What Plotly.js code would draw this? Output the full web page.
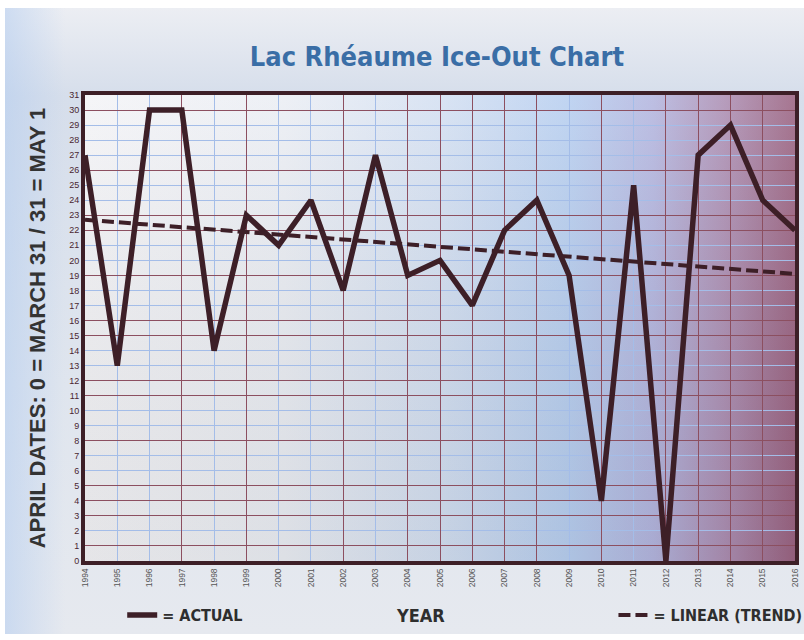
<!DOCTYPE html>
<html>
<head>
<meta charset="utf-8">
<script src="https://cdn.plot.ly/plotly-3.0.1.min.js"></script>
<style>
  html, body { margin: 0; padding: 0; background: #ffffff; }
  #wrap { position: relative; width: 804px; height: 640px; overflow: hidden; }
  #bg { position: absolute; left: 5px; top: 8px; right: 0px; bottom: 6px;
        background:
          linear-gradient(to right, rgba(180,205,240,0.55) 0px, rgba(180,205,240,0) 60px),
          linear-gradient(to bottom, #eceef3 0%, #d6deeb 14%, #dfe5ee 60%, #e6e9ef 100%); }
  #chart { position: absolute; left: 0; top: 0; width: 804px; height: 640px; }
</style>
</head>
<body>
<div id="wrap"><div id="bg"></div><div id="chart"></div></div>
<script>
// ---- data ----
const years = [1994,1995,1996,1997,1998,1999,2000,2001,2002,2003,2004,2005,2006,2007,2008,2009,2010,2011,2012,2013,2014,2015,2016];
const iceOutDay = [27,13,30,30,14,23,21,24,18,27,19,20,17,22,24,19,4,25,0,27,29,24,22];
const trendYears = [1994, 2016];
const trendValues = [22.7, 19.1];
const yTicks = [0,1,2,3,4,5,6,7,8,9,10,11,12,13,14,15,16,17,18,19,20,21,22,23,24,25,26,27,28,29,30,31];
const xMaroonGrid = [1997,1999,2002,2004,2005,2006,2007,2008,2010,2012,2013,2014,2015];
const yMaroonGrid = [1,3,4,5,8,11,12,15,16,19,22,23,26,30];

const ink = '#3d1f27';
const narrow = '"Liberation Sans Narrow", "DejaVu Sans Condensed", "Arial Narrow", sans-serif';

const gradSvg = '<svg xmlns="http://www.w3.org/2000/svg" width="710" height="466" preserveAspectRatio="none">' +
  '<defs><linearGradient id="g" x1="0" y1="0" x2="1" y2="0">' +
  '<stop offset="0" stop-color="#f4f4f7"/>' +
  '<stop offset="0.28" stop-color="#ebeef4"/>' +
  '<stop offset="0.5" stop-color="#d4e0f2"/>' +
  '<stop offset="0.68" stop-color="#b8cff0"/>' +
  '<stop offset="0.8" stop-color="#b4b6df"/>' +
  '<stop offset="0.9" stop-color="#ad90b4"/>' +
  '<stop offset="1" stop-color="#9b6482"/>' +
  '</linearGradient>' +
  '<linearGradient id="v" x1="0" y1="0" x2="0" y2="1">' +
  '<stop offset="0" stop-color="#ffffff" stop-opacity="0.12"/>' +
  '<stop offset="1" stop-color="#000000" stop-opacity="0.06"/>' +
  '</linearGradient></defs>' +
  '<rect width="710" height="466" fill="url(#g)"/>' +
  '<rect width="710" height="466" fill="url(#v)"/></svg>';

const legendFont = { family: narrow, size: 16, color: '#2e2e2e', weight: 700 };

const traces = [
  {
    x: years, y: iceOutDay, type: 'scatter', mode: 'lines',
    name: '= ACTUAL', legend: 'legend',
    line: { color: ink, width: 5.5 },
    xaxis: 'x', yaxis: 'y',
    hoverinfo: 'x+y'
  },
  {
    x: trendYears, y: trendValues, type: 'scatter', mode: 'lines',
    name: '= LINEAR (TREND)', legend: 'legend2',
    line: { color: ink, width: 4, dash: '12px,5px' },
    xaxis: 'x2', yaxis: 'y2',
    hoverinfo: 'skip'
  }
];

const layout = {
  width: 804, height: 640,
  margin: { l: 85, r: 9, t: 95, b: 79 },
  paper_bgcolor: 'rgba(0,0,0,0)',
  plot_bgcolor: 'rgba(0,0,0,0)',
  showlegend: true,
  title: {
    text: 'Lac Rhéaume Ice-Out Chart',
    x: 0.5435, xanchor: 'center', y: 0.911, yanchor: 'middle',
    font: { family: '"DejaVu Sans Condensed", "DejaVu Sans", sans-serif', size: 27, color: '#3a6ea6', weight: 700 }
  },
  xaxis: {
    range: [1994, 2016], tickvals: years, ticktext: years.map(String),
    tickangle: -90, tickfont: { family: 'Liberation Sans, Arial, sans-serif', size: 8.5, color: '#555555' },
    showgrid: true, gridcolor: '#a4bde8', gridwidth: 1,
    showline: true, linecolor: ink, linewidth: 4, mirror: true,
    ticks: '', zeroline: false, fixedrange: true, automargin: false
  },
  yaxis: {
    range: [0, 31], tickvals: yTicks,
    tickfont: { family: 'Liberation Sans, Arial, sans-serif', size: 9, color: '#4a2630' },
    showgrid: true, gridcolor: '#a4bde8', gridwidth: 1,
    showline: true, linecolor: ink, linewidth: 4, mirror: true,
    ticks: '', zeroline: false, fixedrange: true, automargin: false,
    title: {
      text: 'APRIL DATES: 0 = MARCH 31 / 31 = MAY 1',
      font: { family: 'Liberation Sans, Arial, sans-serif', size: 22, color: '#333333', weight: 700 },
      standoff: 18
    }
  },
  xaxis2: {
    overlaying: 'x', anchor: 'y2', matches: 'x', range: [1994, 2016],
    tickvals: xMaroonGrid, showticklabels: false, ticks: '',
    showgrid: true, gridcolor: '#8c4f60', gridwidth: 1,
    showline: false, zeroline: false, fixedrange: true
  },
  yaxis2: {
    overlaying: 'y', anchor: 'x2', matches: 'y', range: [0, 31],
    tickvals: yMaroonGrid, showticklabels: false, ticks: '',
    showgrid: true, gridcolor: '#8c4f60', gridwidth: 1,
    showline: false, zeroline: false, fixedrange: true
  },
  legend: {
    orientation: 'h', xref: 'container', yref: 'container',
    x: 0.152, xanchor: 'left', y: 0.039, yanchor: 'middle',
    bgcolor: 'rgba(0,0,0,0)', font: legendFont
  },
  legend2: {
    orientation: 'h', xref: 'container', yref: 'container',
    x: 0.763, xanchor: 'left', y: 0.039, yanchor: 'middle',
    bgcolor: 'rgba(0,0,0,0)', font: legendFont
  },
  annotations: [{
    text: 'YEAR', xref: 'paper', yref: 'paper', x: 0.472, y: -0.116,
    xanchor: 'center', yanchor: 'middle', showarrow: false,
    font: { family: narrow, size: 18, color: '#2e2e2e', weight: 700 }
  }],
  images: [{
    source: 'data:image/svg+xml;charset=utf-8,' + encodeURIComponent(gradSvg),
    xref: 'paper', yref: 'paper', x: 0, y: 1, sizex: 1, sizey: 1,
    xanchor: 'left', yanchor: 'top', sizing: 'stretch', layer: 'below'
  }]
};

Plotly.newPlot('chart', traces, layout, { displayModeBar: false, staticPlot: true });
</script>
</body>
</html>
